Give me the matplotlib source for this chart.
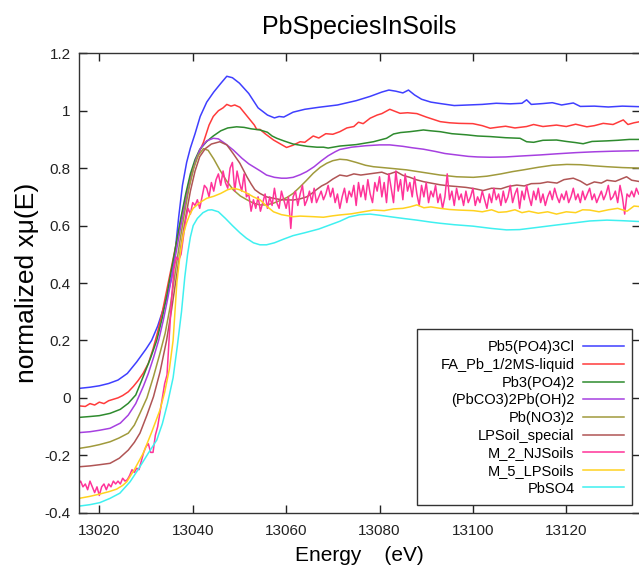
import numpy as np
import matplotlib
matplotlib.use('Agg')
import matplotlib.pyplot as plt
from matplotlib.patches import Rectangle
from matplotlib.ticker import FuncFormatter, MultipleLocator

plt.rcParams['font.family'] = ['Liberation Sans', 'DejaVu Sans']

# ── data: (energy eV, normalized xmu) ─────────────────────────────────
pb5po43cl = [
    (13015.7, 0.033), (13018, 0.037), (13020, 0.042), (13022, 0.05), (13024, 0.062),
    (13026, 0.085), (13028, 0.125), (13030, 0.17), (13031.2, 0.20), (13032.5, 0.25),
    (13033.5, 0.30), (13034.5, 0.35), (13035.5, 0.42), (13036.3, 0.52), (13037, 0.63),
    (13037.8, 0.74), (13038.7, 0.82), (13039.5, 0.87), (13040.5, 0.92), (13041.6, 0.98),
    (13043, 1.03), (13044.5, 1.065), (13046, 1.095), (13047.3, 1.12), (13048.5, 1.115),
    (13050, 1.096), (13052, 1.06), (13054, 1.01), (13056, 0.985), (13057.5, 0.975),
    (13058.5, 0.98), (13059.5, 0.978), (13061.5, 0.995), (13064, 1.005), (13067, 1.012),
    (13071, 1.02), (13075, 1.035), (13078, 1.05), (13080.5, 1.065), (13082, 1.072),
    (13083.5, 1.068), (13085, 1.062), (13086.2, 1.072), (13087.5, 1.055), (13089, 1.04),
    (13091, 1.03), (13093, 1.025), (13096, 1.018), (13099, 1.02), (13102, 1.022),
    (13105, 1.026), (13108, 1.024), (13110.5, 1.026), (13111.5, 1.038), (13112.5, 1.022),
    (13115, 1.025), (13117, 1.028), (13119, 1.02), (13121.5, 1.027), (13123, 1.015),
    (13126, 1.016), (13129, 1.013), (13132, 1.016), (13135.8, 1.014),
]
fa_pb_ms = [
    (13015.7, -0.028), (13017, -0.03), (13018, -0.02), (13019, -0.025), (13020, -0.015),
    (13021, -0.02), (13022, -0.01), (13023, -0.005), (13024, 0.0), (13025, 0.008),
    (13026.2, 0.021), (13027.3, 0.04), (13028.3, 0.06), (13029.4, 0.086), (13030.5, 0.12),
    (13031.5, 0.17), (13032.5, 0.23), (13033.5, 0.30), (13034.5, 0.38), (13035.5, 0.46),
    (13036.5, 0.54), (13037.5, 0.62), (13038.5, 0.70), (13039.5, 0.77), (13040.5, 0.82),
    (13041.5, 0.86), (13042.3, 0.89), (13043.5, 0.95), (13044.4, 0.98), (13045.5, 1.0),
    (13046.5, 1.01), (13047.3, 1.022), (13048.2, 1.016), (13049, 1.02), (13050.1, 1.012),
    (13051.2, 0.99), (13052.3, 0.968), (13053.2, 0.95), (13053.7, 0.935), (13054.4, 0.935),
    (13055.5, 0.92), (13057.3, 0.898), (13058.7, 0.885), (13060.1, 0.872), (13061.5, 0.88),
    (13063, 0.892), (13064, 0.89), (13065.8, 0.912), (13067, 0.905), (13068.5, 0.92),
    (13070, 0.918), (13071.5, 0.927), (13073, 0.94), (13074.5, 0.945), (13075.5, 0.96),
    (13076.5, 0.955), (13078, 0.974), (13079.5, 0.985), (13080.5, 0.99), (13082.2, 1.005),
    (13083.3, 0.998), (13084.4, 0.991), (13086, 0.993), (13088, 0.99), (13090, 0.978),
    (13091.5, 0.97), (13093, 0.962), (13095, 0.958), (13097, 0.956), (13100, 0.955),
    (13102, 0.948), (13103.7, 0.939), (13105.5, 0.943), (13107, 0.946), (13109, 0.94),
    (13111.5, 0.945), (13113, 0.952), (13115, 0.945), (13117.9, 0.95), (13120, 0.945),
    (13122, 0.953), (13124.4, 0.944), (13126, 0.948), (13127.9, 0.956), (13130, 0.952),
    (13132.2, 0.968), (13133.2, 0.952), (13134.5, 0.958), (13135.8, 0.962),
]
pb3po42 = [
    (13015.7, -0.068), (13018, -0.065), (13020, -0.062), (13022.3, -0.054), (13024.5, -0.04),
    (13026.2, -0.019), (13027.8, 0.01), (13029.4, 0.074), (13031, 0.14), (13032.3, 0.2),
    (13033.5, 0.28), (13034.5, 0.36), (13035.5, 0.45), (13036.5, 0.54), (13037.5, 0.63),
    (13038.5, 0.71), (13039.5, 0.78), (13040.5, 0.83), (13041.5, 0.865), (13043, 0.893),
    (13044.4, 0.912), (13046, 0.93), (13047.5, 0.94), (13049.4, 0.944), (13051, 0.942),
    (13052.5, 0.937), (13054.4, 0.933), (13056, 0.925), (13057, 0.912), (13058, 0.904),
    (13059.5, 0.895), (13061.5, 0.884), (13063, 0.88), (13064.5, 0.876), (13066.6, 0.873),
    (13068, 0.873), (13069, 0.87), (13071.5, 0.877), (13075, 0.882), (13078.7, 0.892),
    (13081.5, 0.904), (13083, 0.919), (13084.5, 0.924), (13086.5, 0.927), (13088, 0.93),
    (13089.4, 0.933), (13091, 0.93), (13093, 0.927), (13095.5, 0.92), (13098.7, 0.916),
    (13101, 0.912), (13103.7, 0.91), (13107, 0.906), (13110.1, 0.904), (13111.5, 0.892),
    (13113, 0.89), (13115, 0.897), (13117.9, 0.898), (13120, 0.893), (13122, 0.889),
    (13123.6, 0.885), (13125.5, 0.893), (13128.7, 0.895), (13131, 0.897), (13133.5, 0.9),
    (13135.8, 0.9),
]
pbco3_pboh = [
    (13015.7, -0.121), (13018, -0.118), (13020, -0.113), (13022.3, -0.106), (13024.5, -0.088),
    (13026.2, -0.06), (13027.8, -0.02), (13029.4, 0.039), (13030.5, 0.085), (13031.6, 0.14),
    (13032.7, 0.2), (13033.7, 0.27), (13034.7, 0.35), (13035.7, 0.44), (13036.7, 0.53),
    (13037.7, 0.62), (13038.7, 0.70), (13039.7, 0.77), (13040.7, 0.83), (13041.7, 0.87),
    (13043, 0.895), (13044.4, 0.904), (13045.5, 0.902), (13047, 0.885), (13048.7, 0.863),
    (13050.5, 0.835), (13052, 0.815), (13053, 0.805), (13054.5, 0.79), (13055.8, 0.776),
    (13057.5, 0.768), (13059, 0.765), (13060.1, 0.765), (13061.5, 0.768), (13063, 0.777),
    (13064.4, 0.788), (13066, 0.805), (13067.5, 0.825), (13069, 0.843), (13070.5, 0.857),
    (13071.5, 0.865), (13074, 0.873), (13077, 0.878), (13080, 0.881), (13082.2, 0.881),
    (13085, 0.876), (13087, 0.871), (13089.4, 0.866), (13092, 0.858), (13094, 0.851),
    (13096.5, 0.846), (13099, 0.841), (13101, 0.839), (13103.7, 0.838), (13107, 0.839),
    (13110, 0.842), (13114.4, 0.846), (13118, 0.85), (13122, 0.854), (13126, 0.857),
    (13130, 0.859), (13135.8, 0.861),
]
pbno32 = [
    (13015.7, -0.176), (13018, -0.17), (13020, -0.163), (13022.3, -0.153), (13024.2, -0.14),
    (13026.2, -0.123), (13027.5, -0.095), (13028.7, -0.054), (13030.2, 0.0), (13031.6, 0.074),
    (13032.9, 0.15), (13034.1, 0.225), (13035.2, 0.32), (13036.2, 0.43), (13037.2, 0.54),
    (13038.2, 0.64), (13039.2, 0.73), (13040.2, 0.80), (13041.2, 0.845), (13042.3, 0.868),
    (13043.3, 0.862), (13044.5, 0.832), (13045.8, 0.794), (13047.2, 0.757), (13048.7, 0.724),
    (13050.2, 0.703), (13051.6, 0.69), (13053, 0.678), (13054.4, 0.672), (13055.8, 0.672),
    (13057.3, 0.678), (13058.8, 0.688), (13060.2, 0.698), (13061.5, 0.712), (13063, 0.735),
    (13064.4, 0.758), (13065.8, 0.782), (13067.3, 0.803), (13068.7, 0.817), (13070, 0.826),
    (13071.5, 0.831), (13073, 0.829), (13075, 0.82), (13077, 0.81), (13078.7, 0.805),
    (13082, 0.8), (13085.8, 0.794), (13089, 0.786), (13093, 0.776), (13096.5, 0.77),
    (13100.1, 0.768), (13103, 0.772), (13106, 0.78), (13108.5, 0.788), (13110.8, 0.794),
    (13114, 0.803), (13117, 0.81), (13120.1, 0.813), (13123, 0.812), (13126, 0.808),
    (13128.7, 0.805), (13132, 0.802), (13135.8, 0.8),
]
lpsoil_special = [
    (13015.7, -0.24), (13018, -0.237), (13020, -0.233), (13022.3, -0.228), (13024.3, -0.21),
    (13026.2, -0.182), (13027.5, -0.155), (13028.7, -0.123), (13030.2, -0.06), (13031.6, 0.004),
    (13033, 0.09), (13034.4, 0.2), (13035.5, 0.31), (13036.5, 0.42), (13037.5, 0.53),
    (13038.5, 0.63), (13039.5, 0.72), (13040.5, 0.79), (13041.5, 0.84), (13042.7, 0.868),
    (13044, 0.884), (13045.8, 0.892), (13047.3, 0.881), (13048.7, 0.85), (13050.1, 0.817),
    (13051.6, 0.77), (13052.5, 0.745), (13053.3, 0.725), (13054.4, 0.712), (13055.8, 0.70),
    (13057.3, 0.695), (13059, 0.69), (13061.5, 0.689), (13063, 0.693), (13064.4, 0.70),
    (13065.5, 0.712), (13066.5, 0.725), (13067.6, 0.738), (13068.7, 0.747), (13070, 0.762),
    (13071.5, 0.776), (13073, 0.772), (13074.5, 0.78), (13076, 0.776), (13078.7, 0.782),
    (13080.5, 0.786), (13081.8, 0.778), (13083.6, 0.788), (13085, 0.775), (13086.5, 0.768),
    (13087.8, 0.76), (13089.4, 0.753), (13091, 0.748), (13093, 0.742), (13095, 0.738),
    (13096.5, 0.736), (13098.5, 0.733), (13100.5, 0.728), (13102.2, 0.722), (13104, 0.73),
    (13106, 0.728), (13107.5, 0.736), (13109.4, 0.741), (13111, 0.738), (13112.5, 0.746),
    (13114.4, 0.747), (13116, 0.752), (13118, 0.748), (13119.5, 0.76), (13121.5, 0.765),
    (13123, 0.755), (13124.4, 0.741), (13126, 0.752), (13127.5, 0.748), (13128.7, 0.758),
    (13130.5, 0.754), (13132.9, 0.77), (13134, 0.758), (13135.8, 0.753),
]
# noisy sample: one value every 0.5 eV starting at 13015.5 eV
m2_njsoils_start, m2_njsoils_step = 13015.5, 0.5
m2_njsoils = [
    -0.30, -0.29, -0.31, -0.30, -0.32, -0.29, -0.31, -0.33, -0.31, -0.34,   # 13015.5
    -0.31, -0.30, -0.32, -0.30, -0.31, -0.29, -0.30, -0.29, -0.30, -0.28,   # 13020.5
    -0.29, -0.285, -0.27, -0.25, -0.26, -0.245, -0.25, -0.22, -0.19, -0.17,  # 13025.5
    -0.16, -0.19, -0.19, -0.13, -0.10, -0.05, 0.00, 0.05, 0.08, 0.22,        # 13030.5
    0.35, 0.45, 0.49, 0.48, 0.50, 0.56, 0.62, 0.66, 0.64, 0.68,              # 13035.5
    0.67, 0.69, 0.66, 0.70, 0.74, 0.73, 0.70, 0.75, 0.72, 0.76,              # 13040.5
    0.78, 0.74, 0.79, 0.75, 0.73, 0.80, 0.82, 0.72, 0.79, 0.75,              # 13045.5
    0.72, 0.78, 0.70, 0.71, 0.65, 0.69, 0.66, 0.70, 0.65, 0.68,              # 13050.5
    0.71, 0.66, 0.70, 0.67, 0.73, 0.68, 0.66, 0.72, 0.69, 0.66,              # 13055.5
    0.70, 0.59, 0.70, 0.72, 0.67, 0.71, 0.74, 0.67, 0.69, 0.72,              # 13060.5
    0.68, 0.73, 0.68, 0.70, 0.72, 0.69, 0.71, 0.74, 0.70, 0.73,              # 13065.5
    0.68, 0.71, 0.66, 0.70, 0.73, 0.68, 0.72, 0.70, 0.74, 0.67,              # 13070.5
    0.75, 0.70, 0.74, 0.69, 0.76, 0.71, 0.68, 0.75, 0.72, 0.77,              # 13075.5
    0.70, 0.75, 0.68, 0.78, 0.73, 0.68, 0.79, 0.72, 0.76, 0.69,              # 13080.5
    0.78, 0.72, 0.75, 0.70, 0.77, 0.71, 0.67, 0.74, 0.70, 0.75,              # 13085.5
    0.68, 0.72, 0.70, 0.74, 0.68, 0.71, 0.66, 0.70, 0.78, 0.69,              # 13090.5
    0.72, 0.67, 0.73, 0.69, 0.71, 0.67, 0.72, 0.68, 0.70, 0.73,              # 13095.5
    0.67, 0.70, 0.68, 0.72, 0.69, 0.66, 0.71, 0.68, 0.73, 0.69,              # 13100.5
    0.71, 0.67, 0.72, 0.68, 0.70, 0.74, 0.68, 0.71, 0.73, 0.66,              # 13105.5
    0.72, 0.69, 0.74, 0.70, 0.67, 0.72, 0.69, 0.73, 0.68, 0.71,              # 13110.5
    0.67, 0.70, 0.72, 0.69, 0.73, 0.70, 0.68, 0.71, 0.69, 0.72,              # 13115.5
    0.68, 0.70, 0.73, 0.69, 0.71, 0.68, 0.72, 0.69, 0.71, 0.73,              # 13120.5
    0.69, 0.71, 0.68, 0.70, 0.72, 0.69, 0.71, 0.74, 0.69, 0.70,              # 13125.5
    0.72, 0.68, 0.74, 0.70, 0.64, 0.71, 0.70, 0.72, 0.70, 0.73,              # 13130.5
    0.71,                                                                    # 13135.5
]
m5_lpsoils = [
    (13015.7, -0.35), (13018, -0.343), (13020.1, -0.335), (13022, -0.327), (13023.7, -0.318),
    (13025, -0.305), (13025.9, -0.292), (13027.5, -0.25), (13029.4, -0.193), (13031.2, -0.12),
    (13033, -0.042), (13034, 0.02), (13035, 0.10), (13035.8, 0.2), (13036.6, 0.40),
    (13037.3, 0.50), (13038, 0.57), (13038.7, 0.61), (13039.4, 0.64), (13040.1, 0.66),
    (13041.5, 0.68), (13043, 0.695), (13044.5, 0.702), (13046, 0.712), (13047.5, 0.725),
    (13048.7, 0.73), (13050, 0.725), (13051.6, 0.713), (13053, 0.70), (13054.4, 0.69),
    (13055.8, 0.668), (13057.3, 0.648), (13059, 0.638), (13061.5, 0.631), (13063, 0.633),
    (13065.8, 0.631), (13068, 0.629), (13070, 0.634), (13071.5, 0.637), (13074, 0.641),
    (13076.5, 0.648), (13078.7, 0.654), (13081, 0.652), (13083, 0.658), (13085, 0.66),
    (13086.5, 0.665), (13088, 0.672), (13089.5, 0.662), (13091, 0.665), (13093, 0.66),
    (13095, 0.656), (13097, 0.654), (13100.1, 0.652), (13102, 0.648), (13104, 0.655),
    (13105.5, 0.646), (13107.2, 0.648), (13109, 0.655), (13110.5, 0.645), (13112, 0.65),
    (13114, 0.643), (13116, 0.648), (13117.9, 0.64), (13120, 0.648), (13122, 0.645),
    (13123.5, 0.655), (13125, 0.654), (13127, 0.648), (13129, 0.655), (13131, 0.66),
    (13133, 0.65), (13134.5, 0.668), (13135.8, 0.666),
]
pbso4 = [
    (13015.7, -0.377), (13018, -0.372), (13020.1, -0.365), (13022.3, -0.35), (13024.4, -0.332),
    (13026.6, -0.292), (13028.5, -0.245), (13030.4, -0.195), (13032.3, -0.147), (13033.5, -0.09),
    (13034.6, -0.02), (13035.8, 0.07), (13036.7, 0.18), (13037.6, 0.30), (13038.3, 0.42),
    (13038.9, 0.50), (13039.5, 0.56), (13040.1, 0.60), (13041, 0.625), (13042.2, 0.645),
    (13043.3, 0.654), (13044.1, 0.655), (13045.5, 0.648), (13047, 0.625), (13048.5, 0.60),
    (13050.1, 0.575), (13051.5, 0.556), (13053, 0.54), (13054.4, 0.533), (13055.8, 0.533),
    (13057.5, 0.54), (13059.5, 0.553), (13061.5, 0.565), (13064, 0.575), (13067, 0.588),
    (13069.5, 0.603), (13071.5, 0.615), (13073.5, 0.63), (13075.8, 0.638), (13078, 0.64),
    (13080, 0.636), (13082.2, 0.631), (13085, 0.625), (13088, 0.619), (13091, 0.612),
    (13093, 0.608), (13096, 0.603), (13100, 0.598), (13104, 0.59), (13107.2, 0.585),
    (13110, 0.586), (13113, 0.592), (13117.9, 0.602), (13122, 0.61), (13125, 0.616),
    (13128.7, 0.619), (13132, 0.617), (13135.8, 0.614),
]

labels = ['Pb5(PO4)3Cl', 'FA_Pb_1/2MS-liquid', 'Pb3(PO4)2', '(PbCO3)2Pb(OH)2',
          'Pb(NO3)2', 'LPSoil_special', 'M_2_NJSoils', 'M_5_LPSoils', 'PbSO4']
colors = ['#3f3fff', '#ff3b3b', '#2e8b2e', '#a640e0', '#a09a3c',
          '#b05555', '#ff3399', '#ffd21f', '#3ff0f0']

m2_energy = m2_njsoils_start + m2_njsoils_step * np.arange(len(m2_njsoils))
curves = [
    list(zip(*pb5po43cl)), list(zip(*fa_pb_ms)), list(zip(*pb3po42)),
    list(zip(*pbco3_pboh)), list(zip(*pbno32)), list(zip(*lpsoil_special)),
    [m2_energy, m2_njsoils], list(zip(*m5_lpsoils)), list(zip(*pbso4)),
]

# ── figure ────────────────────────────────────────────────────────────
fig = plt.figure(figsize=(6.39, 5.66), dpi=100)
ax = fig.add_axes([79 / 639, 53.3 / 566, 561 / 639, 459.4 / 566])

for (e, v), lab, c in zip(curves, labels, colors):
    ax.plot(e, v, color=c, lw=1.1, label=lab)

ax.set_xlim(13015.65, 13135.78)
ax.set_ylim(-0.4, 1.2)
ax.xaxis.set_major_locator(MultipleLocator(20))
ax.yaxis.set_major_locator(MultipleLocator(0.2))
ax.yaxis.set_major_formatter(
    FuncFormatter(lambda v, p: '0' if abs(v) < 1e-9 else '%g' % round(v, 2)))
ax.tick_params(direction='in', length=6, width=1, top=True, right=True,
               labelsize=11, colors='#222222')
ax.tick_params(axis='x', pad=8)
ax.tick_params(axis='y', pad=6)
for s in ax.spines.values():
    s.set_color('#333333')
    s.set_linewidth(1)

ax.set_title('PbSpeciesInSoils', fontsize=18, pad=14)
ax.set_xlabel('Energy    (eV)', fontsize=15, labelpad=6)
ax.set_ylabel('normalized x\u03bc(E)', fontsize=19, labelpad=4)

# legend frame drawn separately (it is wider than its content on the left)
ax.add_patch(Rectangle((0.6025, 0.0168), 0.3832, 0.3832, transform=ax.transAxes,
                       facecolor='white', edgecolor='#333333', lw=1, zorder=4.5))
leg = ax.legend(loc='center right', bbox_to_anchor=(0.9715, 0.2061),
                borderaxespad=0, markerfirst=False, fontsize=10.5,
                handlelength=2.8, handletextpad=0.6, labelspacing=0.25,
                borderpad=0, frameon=False)

fig.savefig('out.png', dpi=100)
